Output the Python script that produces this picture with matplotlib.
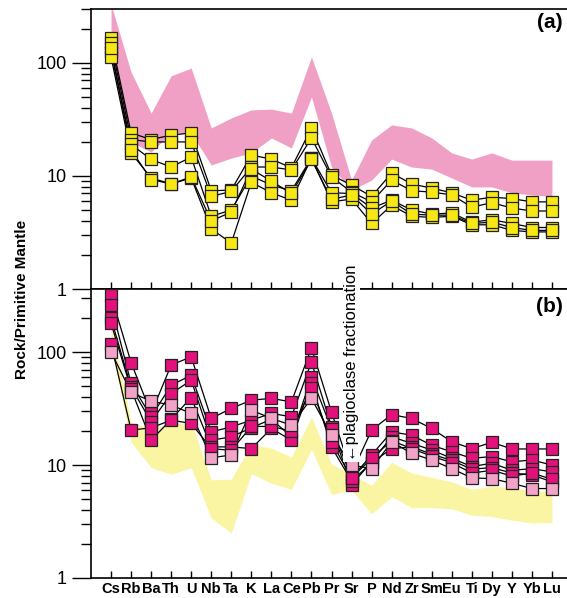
import matplotlib
matplotlib.use("Agg")
import matplotlib.pyplot as plt
import numpy as np
from matplotlib.ticker import LogLocator, NullFormatter, FixedLocator, FixedFormatter

plt.rcParams["font.family"] = ["Liberation Sans", "DejaVu Sans"]

ELEMENTS = ["Cs", "Rb", "Ba", "Th", "U", "Nb", "Ta", "K", "La", "Ce", "Pb", "Pr",
            "Sr", "P", "Nd", "Zr", "Sm", "Eu", "Ti", "Dy", "Y", "Yb", "Lu"]

# panel (a): yellow samples
A1 = [165, 24, 21, 23, 24, 7.4, 7.5, 15.3, 14.1, 11.8, 26.6, 10.2, 8.3, 6.6, 10.6, 8.5, 7.8, 7.1, 6.1, 6.5, 6.3, 5.9, 5.9]
A2 = [150, 21, 20, 20, 20, 6.6, 7.3, 12, 12, 11.3, 21.7, 9.8, 7.2, 5.9, 9.2, 7.4, 7.2, 6.8, 5.3, 5.8, 5.2, 4.9, 4.9]
A3 = [125, 19, 14, 12, 14.7, 4.4, 5.0, 10, 8.3, 7.4, 14.4, 7.1, 7.0, 5.2, 6.1, 5.0, 4.6, 4.7, 3.9, 4.1, 3.8, 3.5, 3.5]
A4 = [113, 16, 9.6, 8.5, 9.6, 3.4, 2.55, 8.8, 7.1, 6.1, 14.4, 5.9, 6.25, 3.8, 5.5, 4.4, 4.3, 4.4, 3.7, 3.7, 3.3, 3.2, 3.2]
A5 = [135, 17, 9.3, 8.5, 9.8, 4.0, 4.8, 11.5, 9.0, 7.0, 14.0, 6.2, 6.8, 4.6, 6.0, 4.6, 4.5, 4.5, 3.8, 3.9, 3.5, 3.3, 3.3]

# panel (a): pink field (range of panel b)
PINK_HI = [330, 83, 36, 77, 90, 26.6, 32.6, 38.4, 39, 36, 113, 36, 9.2, 20.8, 28.3, 26.6, 21.7, 16, 14.1, 16, 13.8, 13.8, 13.8]
PINK_LO = [110, 20, 16.3, 24, 24, 12.5, 14.4, 16, 21.7, 17.7, 50, 12, 7.5, 9.2, 14.1, 12, 11.5, 9.6, 8.0, 8.0, 7.1, 6.8, 6.6]

# panel (b): magenta samples, last one light pink
B1 = [319, 81, 28.7, 77, 91, 25.9, 31.8, 37.6, 39, 36.3, 109, 29.6, 8.4, 20.4, 28, 25.9, 21.1, 16.1, 14, 15.9, 13.9, 13.9, 13.9]
B2 = [261, 53, 26.8, 51, 62.5, 19.7, 21.8, 25, 28.7, 26.8, 82, 21.8, 7.7, 12.3, 19.7, 18.4, 15, 13.1, 11.5, 11.9, 10.7, 11.1, 10]
B3 = [199, 49, 24.2, 43, 56.5, 16.6, 17.8, 21.4, 25.5, 17.8, 60, 21, 6.7, 10.7, 17.8, 15.6, 13.6, 11.5, 9.7, 10.4, 9.0, 9.3, 8.7]
B4 = [180, 47, 16.6, 25.4, 39.7, 14.5, 14.5, 14, 21.1, 16.6, 53, 14.5, 7.2, 10.5, 14, 14.5, 12.5, 11, 9.2, 9.5, 8.5, 8.2, 7.1]
B5 = [119, 20.4, 21.4, 25, 23.4, 14, 13.5, 22, 22, 20, 48, 16, 7.7, 11.5, 16.5, 14, 12, 10.5, 8.5, 9, 8, 8.5, 7.5]
B6 = [101, 44, 36.8, 34, 28.7, 11.6, 12.3, 30.7, 25.9, 22.6, 39, 18.4, 10, 9.3, 16.1, 12.7, 11.1, 9.3, 7.7, 7.6, 6.9, 6.2, 6.2]

# panel (b): yellow field (range of panel a)
YEL_HI = [170, 24, 21, 23, 24, 7.4, 7.5, 15.3, 14.1, 11.8, 26.6, 10.2, 8.3, 6.6, 10.6, 8.5, 7.8, 7.1, 6.1, 6.5, 6.3, 5.9, 5.9]
YEL_LO = [110, 16, 9.5, 8.3, 9.5, 3.4, 2.5, 8.4, 6.9, 6.1, 13.8, 5.5, 6.0, 3.7, 5.25, 4.2, 4.2, 4.1, 3.6, 3.5, 3.26, 3.07, 3.1]

YELLOW = "#f7e714"
PINK_FIELD = "#f09fc5"
YEL_FIELD = "#faf5a3"
MAGENTA = "#e2117b"
LIGHT_PINK = "#f2a3c8"

x = np.arange(len(ELEMENTS))

fig = plt.figure(figsize=(5.67, 5.98), dpi=100)
left = 91 / 567
width = (572 - 91) / 567
ax_a = fig.add_axes([left, 1 - 289 / 598, width, (289 - 9) / 598])
ax_b = fig.add_axes([left, 1 - 578 / 598, width, (578 - 289) / 598])


def style(ax, top):
    ax.set_yscale("log")
    ax.set_ylim(1, top)
    ax.set_xlim(-1, len(ELEMENTS))
    ax.yaxis.set_minor_locator(LogLocator(base=10, subs=np.arange(2, 10), numticks=10))
    ax.yaxis.set_minor_formatter(NullFormatter())
    ax.yaxis.set_major_locator(FixedLocator([1, 10, 100]))
    ax.yaxis.set_major_formatter(FixedFormatter(["1", "10", "100"]))
    ax.tick_params(axis="y", which="major", direction="out", length=14, width=1, labelsize=13)
    ax.tick_params(axis="y", which="minor", direction="out", length=7, width=1)
    ax.set_xticks(x)
    ax.tick_params(axis="x", which="major", direction="in", length=5, width=1)
    ax.tick_params(axis="x", which="minor", bottom=False)
    for s in ax.spines.values():
        s.set_linewidth(1.2)


def draw(ax, samples, colors):
    for s in samples:
        ax.plot(x, s, color="black", lw=0.9, zorder=2)
    for s, c in zip(samples, colors):
        ax.plot(x, s, ls="none", marker="s", ms=9, mfc=c, mec="#222222", mew=0.9, zorder=3)


style(ax_a, 300)
ax_a.fill_between(x, PINK_LO, PINK_HI, color=PINK_FIELD, lw=0, zorder=1)
draw(ax_a, [A1, A2, A3, A4, A5], [YELLOW] * 5)
ax_a.set_xticklabels([])

style(ax_b, 363)
ax_b.fill_between(x, YEL_LO, YEL_HI, color=YEL_FIELD, lw=0, zorder=1)
draw(ax_b, [B1, B2, B3, B4, B5, B6], [MAGENTA] * 5 + [LIGHT_PINK])
ax_b.set_xticklabels(ELEMENTS, fontweight="bold", fontsize=10.5)
ax_b.tick_params(axis="x", pad=3)
ax_b.text(x[ELEMENTS.index("Sr")], 10.8, "\u2190plagioclase fractionation", rotation=90,
          ha="center", va="bottom", fontsize=12, clip_on=False, zorder=10,
          bbox=dict(facecolor="white", edgecolor="none", pad=0.5))

fig.text(563 / 567, 1 - 13 / 598, "(a)", ha="right", va="top", fontsize=15, fontweight="bold")
fig.text(563 / 567, 1 - 297 / 598, "(b)", ha="right", va="top", fontsize=15, fontweight="bold")
fig.text(0.038, 0.5, "Rock/Primitive Mantle", rotation=90, ha="center", va="center",
         fontsize=11, fontweight="bold")

fig.savefig("out.png", dpi=100)
